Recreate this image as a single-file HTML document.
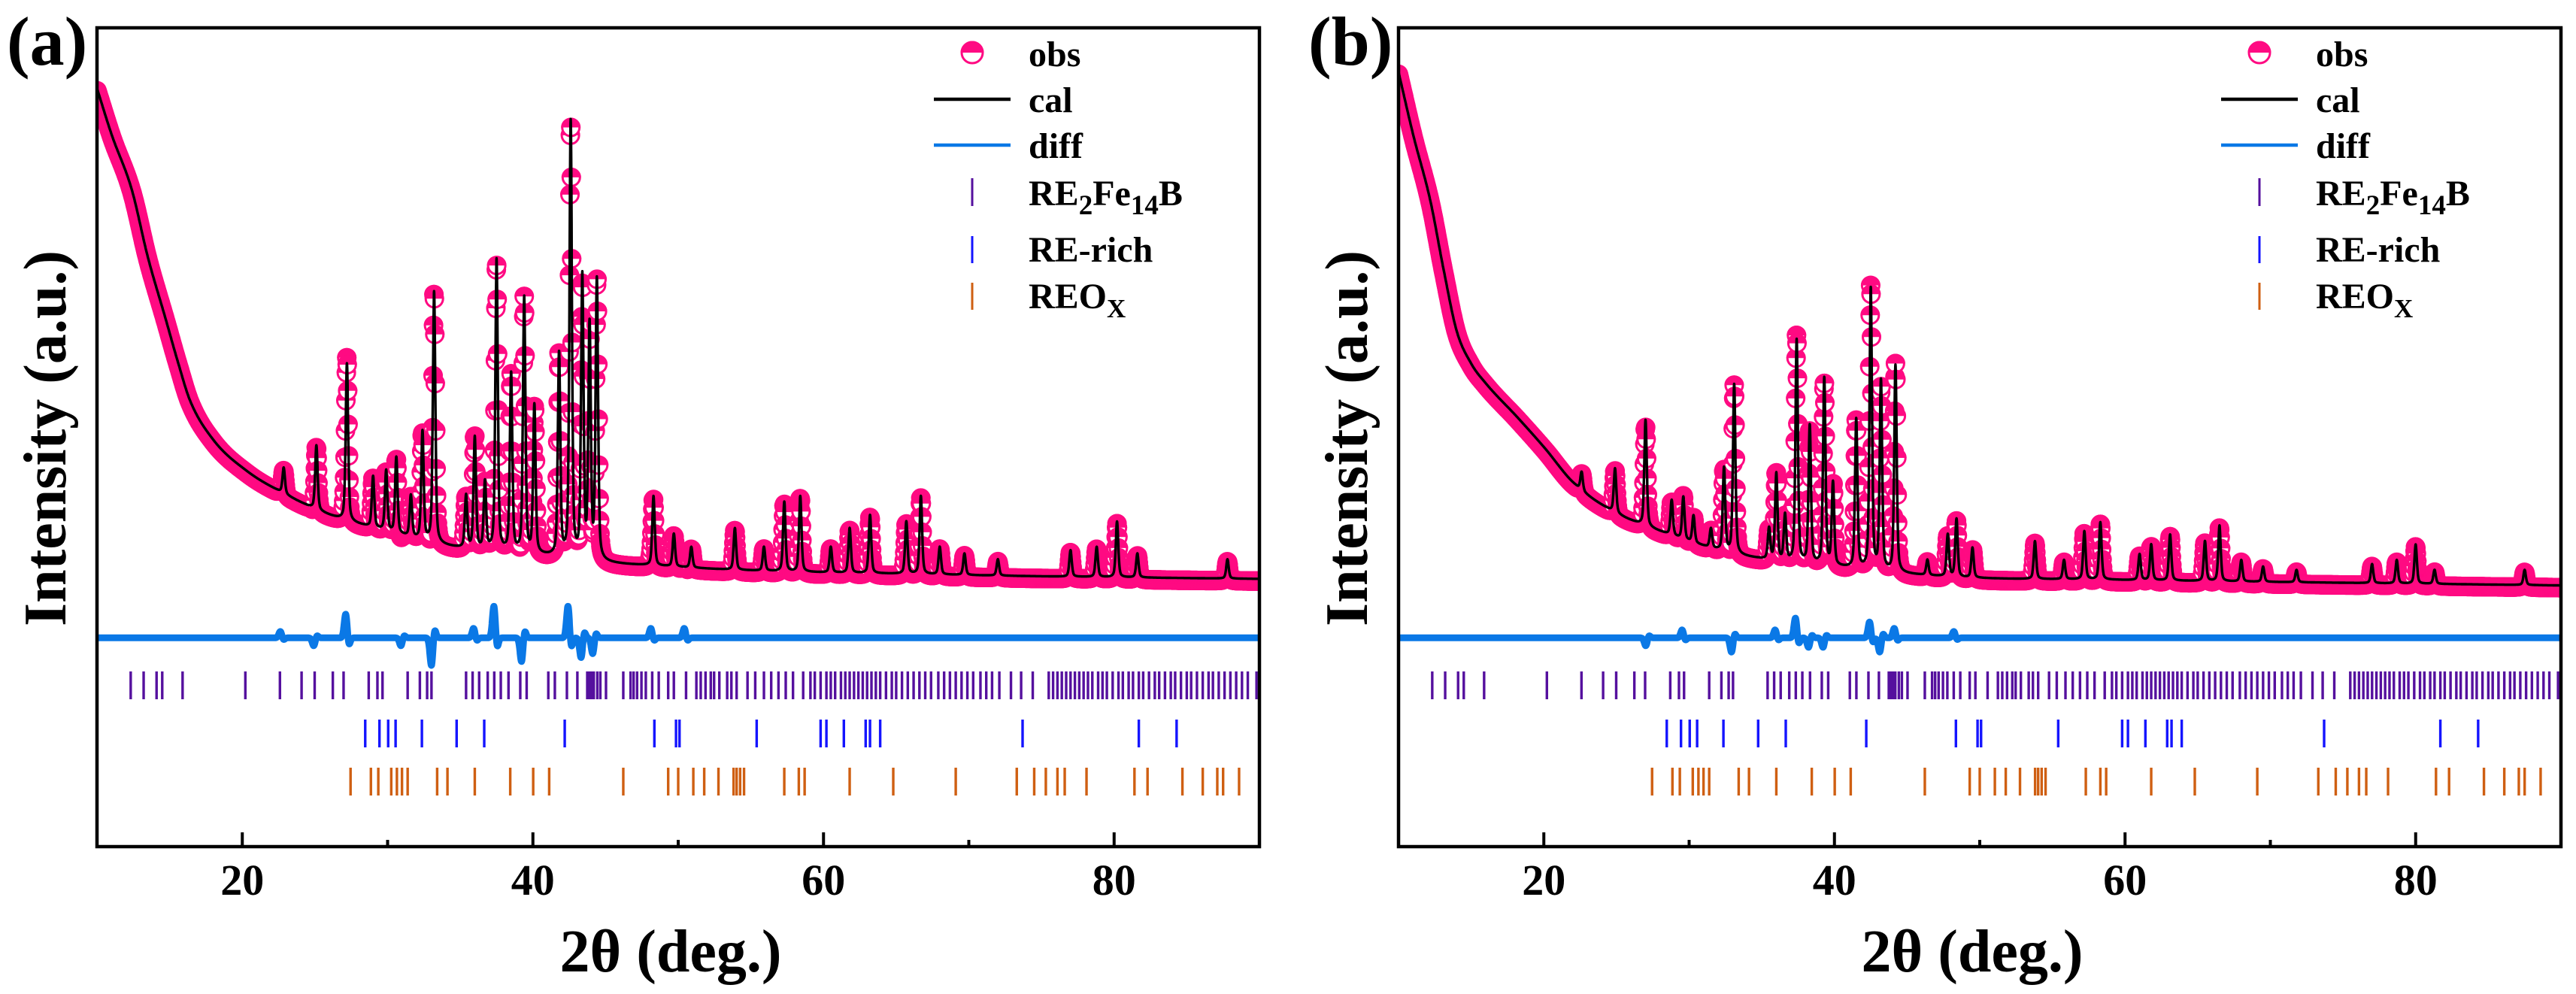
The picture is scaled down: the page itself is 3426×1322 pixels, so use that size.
<!DOCTYPE html>
<html><head><meta charset="utf-8"><title>XRD Rietveld refinement</title>
<style>
html,body{margin:0;padding:0;background:#fff;}
svg{display:block;}
text{font-family:"Liberation Serif","DejaVu Serif",serif;font-weight:bold;fill:#000;}
</style></head>
<body>
<svg id="fig" xmlns="http://www.w3.org/2000/svg" width="3426" height="1322" viewBox="0 0 3426 1322" font-family="Liberation Serif, DejaVu Serif, serif" font-weight="bold">
<rect x="0" y="0" width="3426" height="1322" fill="#fff"/>
</svg>
<script>
// ---------- data ----------
const aBgX = [10, 11, 12.4, 13.5, 14.7, 15.6, 16.4, 18, 20.3, 23, 26, 30, 34.5, 38, 43, 45.5, 48.5, 54, 59.8, 66, 72, 80, 90];
const aBgY = [926, 870, 802, 720, 646, 590, 545, 497, 459, 430, 405, 385, 366, 360, 351, 346, 343, 338, 335, 333, 331, 329, 327];
const aPeakPos = [22.85, 25.1, 27.2, 29.0, 29.9, 30.6, 31.6, 32.4, 33.2, 35.4, 36.0, 36.7, 37.5, 38.5, 39.4, 40.1, 41.8, 42.6, 43.4, 43.9, 44.4, 48.3, 49.7, 50.9, 53.9, 55.9, 57.3, 58.4, 60.5, 61.8, 63.2, 65.7, 66.7, 68.0, 69.7, 72.0, 77.0, 78.8, 80.2, 81.6, 87.8];
const aPeakTop = [463, 490, 590, 452, 459, 475, 428, 506, 677, 428, 499, 444, 716, 576, 669, 537, 600, 883, 692, 631, 689, 428, 382, 366, 389, 366, 421, 428, 366, 389, 405, 397, 428, 366, 358, 351, 362, 366, 397, 358, 351];
const aDiffPos = [22.7, 25.0, 27.2, 31.0, 33.1, 36.0, 37.4, 39.3, 42.5, 43.4, 44.2, 48.2, 50.5];
const aDiffAmp = [8, -10, 30, -10, -35, 12, 40, -30, 40, -25, -20, 12, 12];

const bBgX = [10, 11, 12.2, 13.1, 14.0, 15.0, 16.0, 18.2, 20.1, 22, 24.6, 28, 33.2, 40, 47.5, 58.9, 76.1, 90];
const bBgY = [946, 870, 788, 705, 630, 590, 566, 524, 486, 445, 411, 385, 357, 342, 330, 326, 322, 319];
const bPeakPos = [22.6, 24.9, 27.0, 28.8, 29.6, 30.3, 31.5, 32.4, 33.1, 35.5, 36.0, 36.6, 37.4, 38.3, 39.3, 39.9, 41.5, 42.5, 43.2, 44.2, 46.4, 47.8, 48.4, 49.5, 53.8, 55.8, 57.2, 58.3, 61.0, 61.8, 63.1, 65.5, 66.5, 68.0, 69.5, 71.8, 77.0, 78.7, 80.0, 81.3, 87.5];
const bPeakTop = [458, 462, 521, 423, 427, 404, 388, 462, 564, 388, 455, 404, 618, 513, 571, 443, 521, 680, 567, 587, 350, 381, 400, 365, 373, 350, 385, 396, 357, 369, 381, 373, 392, 350, 342, 338, 345, 350, 369, 338, 338];
const bDiffPos = [27.1, 29.6, 33.0, 36.0, 37.4, 38.3, 39.3, 42.5, 43.2, 44.2, 48.3];
const bDiffAmp = [-10, 10, -18, 10, 25, -12, -12, 20, -18, 12, 8];

const phaseMain = [12.32, 13.21, 14.10, 14.49, 15.89, 20.21, 22.59, 24.08, 24.98, 26.23, 26.97, 28.70, 29.30, 29.65, 31.38, 32.22, 32.72, 33.02, 35.40, 35.85, 36.30, 36.89, 37.34, 37.79, 38.32, 39.13, 39.57, 41.06, 41.51, 42.34, 43.06, 43.74, 43.89, 44.04, 44.19, 44.43, 44.64, 45.03, 46.22, 46.72, 46.93, 47.17, 47.47, 47.77, 48.21, 48.66, 49.31, 49.70, 50.54, 51.25, 51.55, 51.88, 52.24, 52.47, 52.83, 53.37, 53.66, 54.02, 54.77, 55.3, 55.9, 56.4, 56.9, 57.4, 57.9, 58.6, 59.1, 59.4, 59.8, 60.2, 60.5, 60.8, 61.2, 61.5, 61.8, 62.1, 62.4, 62.7, 63.0, 63.3, 63.6, 63.9, 64.3, 64.7, 65.0, 65.4, 65.8, 66.2, 66.6, 67.0, 67.4, 67.9, 68.3, 68.7, 69.1, 69.5, 69.9, 70.3, 70.8, 71.2, 71.6, 72.1, 72.9, 73.6, 74.4, 75.5, 75.8, 76.1, 76.4, 76.7, 77.0, 77.3, 77.6, 77.9, 78.2, 78.5, 78.9, 79.2, 79.5, 79.9, 80.3, 80.6, 81.0, 81.3, 81.7, 82.0, 82.4, 82.8, 83.1, 83.5, 83.9, 84.2, 84.6, 85.0, 85.3, 85.7, 86.1, 86.5, 86.8, 87.2, 87.6, 88.0, 88.4, 88.8, 89.2, 89.8];
const phaseRich = [28.46, 29.44, 30.04, 30.55, 32.36, 34.75, 36.65, 42.19, 48.36, 49.85, 50.09, 55.4, 59.8, 60.2, 61.4, 62.9, 63.2, 63.9, 73.7, 81.7, 84.3];
const phaseOx = [27.45, 28.85, 29.36, 30.25, 30.64, 30.99, 31.38, 33.41, 34.12, 36.00, 38.44, 40.02, 41.12, 46.22, 49.31, 50.00, 51.04, 51.79, 52.77, 53.81, 54.02, 54.26, 54.53, 57.3, 58.3, 58.7, 61.8, 64.8, 69.1, 73.3, 74.5, 75.3, 76.1, 76.6, 78.1, 81.4, 82.3, 84.7, 86.1, 87.1, 87.5, 88.6];

const xTicks = [20, 40, 60, 80];
const xMinor = [30, 50, 70];
const xTickLabels = ["20", "40", "60", "80"];

// ---------- layout ----------
const NS = "http://www.w3.org/2000/svg";
const svg = document.getElementById("fig");
const W = 1546, TOP = 37, BOT = 1126, XMIN = 10, XMAX = 90;
const DIFF0 = 255;
const PINK = "#ff0a82", CAL = "#000", DIFFC = "#0a78e6", C_MAIN = "#55109e", C_RICH = "#1414ff", C_OX = "#cf5f12";
const FONT = '"Liberation Serif","DejaVu Serif",serif';

function el(tag, attrs, parent) {
  const e = document.createElementNS(NS, tag);
  for (const k in attrs) e.setAttribute(k, attrs[k]);
  if (tag === "text") { e.setAttribute("font-family", FONT); e.setAttribute("font-weight", "bold"); e.style.fontFamily = FONT; }
  (parent || svg).appendChild(e);
  return e;
}
// monotone cubic interpolation
function makeInterp(xs, ys) {
  const n = xs.length, m = new Array(n), dk = [];
  for (let i = 0; i < n - 1; i++) dk.push((ys[i + 1] - ys[i]) / (xs[i + 1] - xs[i]));
  m[0] = dk[0]; m[n - 1] = dk[n - 2];
  for (let i = 1; i < n - 1; i++) m[i] = (dk[i - 1] * dk[i] <= 0) ? 0 : (dk[i - 1] + dk[i]) / 2;
  for (let i = 0; i < n - 1; i++) {
    if (dk[i] === 0) { m[i] = 0; m[i + 1] = 0; continue; }
    const a = m[i] / dk[i], b = m[i + 1] / dk[i], s = a * a + b * b;
    if (s > 9) { const t = 3 / Math.sqrt(s); m[i] = t * a * dk[i]; m[i + 1] = t * b * dk[i]; }
  }
  return function (x) {
    if (x <= xs[0]) return ys[0];
    if (x >= xs[n - 1]) return ys[n - 1];
    let i = 0; while (x > xs[i + 1]) i++;
    const h = xs[i + 1] - xs[i], t = (x - xs[i]) / h, t2 = t * t, t3 = t2 * t;
    return (2 * t3 - 3 * t2 + 1) * ys[i] + (t3 - 2 * t2 + t) * h * m[i] + (-2 * t3 + 3 * t2) * ys[i + 1] + (t3 - t2) * h * m[i + 1];
  };
}
function peakShape(u) { return 0.55 * Math.exp(-0.693 * u * u) + 0.45 / (1 + u * u); }

function drawPanel(ox, bgX, bgY, pPos, pTop, dPos, dAmp, label, legendDx, id) {
  const sx = d => ox + (d - XMIN) * W / (XMAX - XMIN);
  const sy = v => BOT - v * 1.089;
  const bg = makeInterp(bgX, bgY);
  const g = el("g", {});
  
  
  const cp = el("clipPath", { id: "clip" + id }, g);
  el("rect", { x: ox, y: TOP, width: W, height: BOT - TOP }, cp);

  const hw = 0.1;
  const heights = pPos.map((p, i) => pTop[i] - bg(p));
  function cal(x) {
    let v = bg(x);
    for (let i = 0; i < pPos.length; i++) {
      const u = (x - pPos[i]) / hw;
      if (Math.abs(u) < 60) v += heights[i] * peakShape(u);
    }
    return v;
  }
  function diff(x) {
    let v = 0;
    for (let i = 0; i < dPos.length; i++) {
      const u = (x - dPos[i]) / 0.12;
      if (Math.abs(u) < 8) v += dAmp[i] * (0.6 * Math.exp(-u * u / 2) + 0.9 * (-u) * Math.exp(-u * u / 2));
    }
    return v;
  }

  const plot = el("g", { "clip-path": "url(#clip" + id + ")" }, g);
  
  

  const obsG = el("g", {}, plot);
  
  
  let prevY = null;
  const r = 13;
  for (let x = XMIN; x <= XMAX + 0.001; x += 0.03) {
    const px = sx(x), py = sy(cal(x) + diff(x) / 1.089 * 0.6) + 3;
    const steep = prevY !== null && Math.abs(py - prevY) > 3.5;
    if (steep) {
      const c = el("circle", { cx: px.toFixed(1), cy: py.toFixed(1), r: r - 1.5, fill: "#fff", stroke: PINK, "stroke-width": 3 }, obsG);
      
      
      const h = el("path", { d: `M${(px - r).toFixed(1)},${py.toFixed(1)} A${r},${r} 0 0 1 ${(px + r).toFixed(1)},${py.toFixed(1)} Z`, fill: PINK }, obsG);
      
      
    } else {
      const c = el("circle", { cx: px.toFixed(1), cy: py.toFixed(1), r: r, fill: PINK }, obsG);
      
      
    }
    prevY = py;
  }

  let d = "";
  for (let x = XMIN; x <= XMAX + 0.0001; x += 0.01) d += (d ? "L" : "M") + sx(x).toFixed(1) + "," + sy(cal(x)).toFixed(1);
  const calL = el("path", { d: d, fill: "none", stroke: CAL, "stroke-width": 3.4, "stroke-linejoin": "round" }, plot);
  
  

  d = "";
  for (let x = XMIN; x <= XMAX + 0.0001; x += 0.01) d += (d ? "L" : "M") + sx(x).toFixed(1) + "," + sy(DIFF0 + diff(x)).toFixed(1);
  const dL = el("path", { d: d, fill: "none", stroke: DIFFC, "stroke-width": 9, "stroke-linejoin": "round" }, plot);
  
  

  const rows = [[phaseMain, C_MAIN, 893, 'tick-re2fe14b'], [phaseRich, C_RICH, 957, 'tick-re-rich'], [phaseOx, C_OX, 1021, 'tick-reox']];
  rows.forEach(([arr, col, y0, nm]) => {
    const rg = el("g", {}, plot);
    
    
    arr.forEach(p => {
      const t = el("line", { x1: sx(p), x2: sx(p), y1: y0, y2: y0 + 37, stroke: col, "stroke-width": 3.4 }, rg);
      
      
    });
  });

  const fr = el("rect", { x: ox, y: TOP, width: W, height: BOT - TOP, fill: "none", stroke: "#000", "stroke-width": 4.5 }, g);
  
  

  xTicks.forEach((t, i) => {
    const tk = el("line", { x1: sx(t), x2: sx(t), y1: BOT, y2: BOT - 19, stroke: "#000", "stroke-width": 4 }, g);
    
    
    const tl = el("text", { x: sx(t), y: 1190, "text-anchor": "middle", "font-size": 58 }, g);
    tl.textContent = xTickLabels[i];
    
    
  });
  xMinor.forEach(t => {
    const tk = el("line", { x1: sx(t), x2: sx(t), y1: BOT, y2: BOT - 9, stroke: "#000", "stroke-width": 4 }, g);
    
    
  });

  const xt = el("text", { x: ox + W / 2 - 10, y: 1292, "text-anchor": "middle", "font-size": 80 }, g);
  xt.textContent = "2θ (deg.)";
  
  
  const yx = ox - 42, yy = 583;
  const yt = el("text", { x: yx, y: yy, "text-anchor": "middle", "font-size": 80, transform: `rotate(-90 ${yx} ${yy})` }, g);
  yt.textContent = "Intensity (a.u.)";
  
  

  const pl = el("text", { x: ox - 120, y: 86, "font-size": 92 }, g);
  pl.textContent = label;
  
  

  const lg = el("g", {}, g);
  
  
  const mx = ox + 1164 + legendDx, tx = ox + 1239 + legendDx;
  const e1 = el("g", {}, lg);
  
  
  el("circle", { cx: mx, cy: 70, r: 14, fill: "#fff", stroke: PINK, "stroke-width": 3 }, e1);
  el("path", { d: `M${mx - 15.5},70 A15.5,15.5 0 0 1 ${mx + 15.5},70 Z`, fill: PINK }, e1);
  let t = el("text", { x: tx, y: 88, "font-size": 48 }, e1); t.textContent = "obs";

  const e2 = el("g", {}, lg);
  
  
  el("line", { x1: mx - 51, x2: mx + 51, y1: 132, y2: 132, stroke: CAL, "stroke-width": 4.5 }, e2);
  t = el("text", { x: tx, y: 149, "font-size": 48 }, e2); t.textContent = "cal";

  const e3 = el("g", {}, lg);
  
  
  el("line", { x1: mx - 51, x2: mx + 51, y1: 193, y2: 193, stroke: DIFFC, "stroke-width": 4.5 }, e3);
  t = el("text", { x: tx, y: 210, "font-size": 48 }, e3); t.textContent = "diff";

  const e4 = el("g", {}, lg);
  
  
  el("line", { x1: mx, x2: mx, y1: 237, y2: 274, stroke: C_MAIN, "stroke-width": 3 }, e4);
  t = el("text", { x: tx, y: 273, "font-size": 48 }, e4);
  t.innerHTML = 'RE<tspan font-size="37" dy="12">2</tspan><tspan dy="-12">Fe</tspan><tspan font-size="37" dy="12">14</tspan><tspan dy="-12">B</tspan>';

  const e5 = el("g", {}, lg);
  
  
  el("line", { x1: mx, x2: mx, y1: 314, y2: 350, stroke: C_RICH, "stroke-width": 3 }, e5);
  t = el("text", { x: tx, y: 348, "font-size": 48 }, e5); t.textContent = "RE-rich";

  const e6 = el("g", {}, lg);
  
  
  el("line", { x1: mx, x2: mx, y1: 376, y2: 412, stroke: C_OX, "stroke-width": 3 }, e6);
  t = el("text", { x: tx, y: 410, "font-size": 48 }, e6);
  t.innerHTML = 'REO<tspan font-size="35" dy="12">X</tspan>';
}

drawPanel(129, aBgX, aBgY, aPeakPos, aPeakTop, aDiffPos, aDiffAmp, "(a)", 0, "a");
drawPanel(1860, bBgX, bBgY, bPeakPos, bPeakTop, bDiffPos, bDiffAmp, "(b)", -19, "b");
</script>
</body></html>
